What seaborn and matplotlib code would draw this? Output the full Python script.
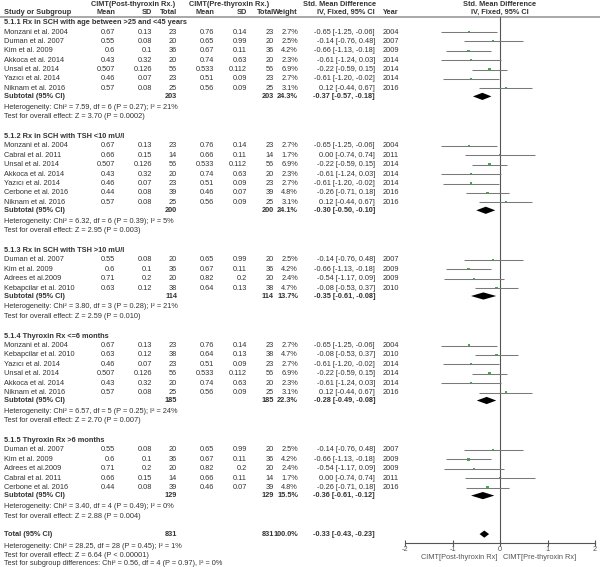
import numpy as np
import pandas as pd
import seaborn as sns
import matplotlib.pyplot as plt

sns.set_theme(style="white")
plt.rcParams['font.family'] = ['Liberation Sans', 'DejaVu Sans']
plt.rcParams['axes.unicode_minus'] = False

# ---- data ----
studies = ["Monzani et al. 2004", "Duman et al. 2007", "Kim et al. 2009", "Akkoca et al. 2014",
           "Unsal et al. 2014", "Yazıcı et al. 2014", "Niknam et al. 2016", "Cabral et al. 2011",
           "Cerbone et al. 2016", "Adrees et al.2009", "Kebapcilar et al. 2010"]
post_mean = [0.67, 0.55, 0.6, 0.43, 0.507, 0.46, 0.57, 0.66, 0.44, 0.71, 0.63]
post_sd = [0.13, 0.08, 0.1, 0.32, 0.126, 0.07, 0.08, 0.15, 0.08, 0.2, 0.12]
post_n = [23, 20, 36, 20, 56, 23, 25, 14, 39, 20, 38]
pre_mean = [0.76, 0.65, 0.67, 0.74, 0.533, 0.51, 0.56, 0.66, 0.46, 0.82, 0.64]
pre_sd = [0.14, 0.99, 0.11, 0.63, 0.112, 0.09, 0.09, 0.11, 0.07, 0.2, 0.13]
pre_n = [23, 20, 36, 20, 56, 23, 25, 14, 39, 20, 38]
weight = [2.7, 2.5, 4.2, 2.3, 6.9, 2.7, 3.1, 1.7, 4.8, 2.4, 4.7]
smd = [-0.65, -0.14, -0.66, -0.61, -0.22, -0.61, 0.12, 0.00, -0.26, -0.54, -0.08]
smd_lo = [-1.25, -0.76, -1.13, -1.24, -0.59, -1.20, -0.44, -0.74, -0.71, -1.17, -0.53]
smd_hi = [-0.06, 0.48, -0.18, 0.03, 0.15, -0.02, 0.67, 0.74, 0.18, 0.09, 0.37]
year = [2004, 2007, 2009, 2014, 2014, 2014, 2016, 2011, 2016, 2009, 2010]

groups = ["5.1.1 Rx in SCH with age between >25 and <45 years",
          "5.1.2 Rx in SCH with TSH <10 mU/l",
          "5.1.3 Rx in SCH with TSH >10 mU/l",
          "5.1.4 Thyroxin Rx <=6 months",
          "5.1.5 Thyroxin Rx >6 months"]
members = [
    ["Monzani et al. 2004", "Duman et al. 2007", "Kim et al. 2009", "Akkoca et al. 2014",
     "Unsal et al. 2014", "Yazıcı et al. 2014", "Niknam et al. 2016"],
    ["Monzani et al. 2004", "Cabral et al. 2011", "Unsal et al. 2014", "Akkoca et al. 2014",
     "Yazıcı et al. 2014", "Cerbone et al. 2016", "Niknam et al. 2016"],
    ["Duman et al. 2007", "Kim et al. 2009", "Adrees et al.2009", "Kebapcilar et al. 2010"],
    ["Monzani et al. 2004", "Kebapcilar et al. 2010", "Yazıcı et al. 2014", "Unsal et al. 2014",
     "Akkoca et al. 2014", "Niknam et al. 2016"],
    ["Duman et al. 2007", "Kim et al. 2009", "Adrees et al.2009", "Cabral et al. 2011",
     "Cerbone et al. 2016"],
]
sub_n = [203, 200, 114, 185, 129]
sub_w = [24.3, 24.1, 13.7, 22.3, 15.5]
sub_est = [-0.37, -0.30, -0.35, -0.28, -0.36]
sub_lo = [-0.57, -0.50, -0.61, -0.49, -0.61]
sub_hi = [-0.18, -0.10, -0.08, -0.08, -0.12]
het_chi = ["7.59", "6.32", "3.80", "6.57", "3.40"]
het_df = [6, 6, 3, 5, 4]
het_p = ["0.27", "0.39", "0.28", "0.25", "0.49"]
het_i2 = [21, 5, 21, 24, 0]
z_val = ["3.70", "2.95", "2.59", "2.70", "2.88"]
z_p = ["= 0.0002", "= 0.003", "= 0.010", "= 0.007", "= 0.004"]

total_n = 831
total_w = 100.0
total_est, total_lo, total_hi = -0.33, -0.43, -0.23
total_het = "Heterogeneity: Chi² = 28.25, df = 28 (P = 0.45); I² = 1%"
total_z = "Test for overall effect: Z = 6.64 (P < 0.00001)"
subgroup_test = "Test for subgroup differences: Chi² = 0.56, df = 4 (P = 0.97), I² = 0%"

sd = pd.DataFrame(dict(study=studies, pm=post_mean, psd=post_sd, pn=post_n, qm=pre_mean,
                       qsd=pre_sd, qn=pre_n, w=weight, est=smd, lo=smd_lo, hi=smd_hi,
                       year=year)).set_index("study")

# ---- layout (pixel rows) ----
TXT = '#333333'
AXC = '#555555'
FS = 5.3
X0 = 4
col = dict(pm=115, psd=152, pn=177, qm=214, qsd=247, qn=274, w=298, est=375, yr=383)

fig = plt.figure(figsize=(6, 5.67), dpi=100)
tx = fig.add_axes([0, 0, 1, 1])
tx.set_xlim(0, 600)
tx.set_ylim(567, 0)
tx.axis('off')

AX_TOP, AX_BOT = 17, 543
fx = fig.add_axes([405 / 600, (567 - AX_BOT) / 567, 190 / 600, (AX_BOT - AX_TOP) / 567])
fx.set_facecolor('none')


def put(x, y, s, ha='left', bold=False):
    tx.text(x, y, s, ha=ha, va='center', fontsize=FS, color=TXT,
            fontweight='bold' if bold else 'normal')


def ci(e, l, h):
    return f"{e:.2f} [{l:.2f}, {h:.2f}]"


# header
put(133, 4.5, "CIMT(Post-thyroxin Rx.)", ha='center', bold=True)
put(229, 4.5, "CIMT(Pre-thyroxin Rx.)", ha='center', bold=True)
put(340, 4.5, "Std. Mean Difference", ha='center', bold=True)
put(500, 4.5, "Std. Mean Difference", ha='center', bold=True)
put(X0, 12.5, "Study or Subgroup", bold=True)
for key, lab in [("pm", "Mean"), ("psd", "SD"), ("pn", "Total"), ("qm", "Mean"),
                 ("qsd", "SD"), ("qn", "Total"), ("w", "Weight"), ("est", "IV, Fixed, 95% CI")]:
    put(col[key], 12.5, lab, ha='right', bold=True)
put(col['yr'], 12.5, "Year", bold=True)
put(500, 12.5, "IV, Fixed, 95% CI", ha='center', bold=True)
tx.hlines(16.8, 0, 600, color='#9a9a9a', lw=1.2)

rows = []
subs = []
y = 22.5
for g, name in enumerate(groups):
    put(X0, y, name, bold=True)
    y += 9.5
    for i, st in enumerate(members[g]):
        if i:
            y += 9.4
        r = sd.loc[st]
        put(X0, y, st)
        put(col['pm'], y, f"{r.pm:g}", ha='right')
        put(col['psd'], y, f"{r.psd:g}", ha='right')
        put(col['pn'], y, f"{int(r.pn)}", ha='right')
        put(col['qm'], y, f"{r.qm:g}", ha='right')
        put(col['qsd'], y, f"{r.qsd:g}", ha='right')
        put(col['qn'], y, f"{int(r.qn)}", ha='right')
        put(col['w'], y, f"{r.w:.1f}%", ha='right')
        put(col['est'], y, ci(r.est, r.lo, r.hi), ha='right')
        put(col['yr'], y, f"{int(r.year)}")
        rows.append(dict(y=y, est=r.est, lo=r.lo, hi=r.hi, w=r.w))
    y += 8
    put(X0, y, "Subtotal (95% CI)", bold=True)
    put(col['pn'], y, f"{sub_n[g]}", ha='right', bold=True)
    put(col['qn'], y, f"{sub_n[g]}", ha='right', bold=True)
    put(col['w'], y, f"{sub_w[g]:.1f}%", ha='right', bold=True)
    put(col['est'], y, ci(sub_est[g], sub_lo[g], sub_hi[g]), ha='right', bold=True)
    subs.append(dict(y=y, est=sub_est[g], lo=sub_lo[g], hi=sub_hi[g]))
    y += 11
    put(X0, y, f"Heterogeneity: Chi² = {het_chi[g]}, df = {het_df[g]} (P = {het_p[g]}); "
               f"I² = {het_i2[g]}%")
    y += 9.5
    put(X0, y, f"Test for overall effect: Z = {z_val[g]} (P {z_p[g]})")
    y += 19.5 if g < len(groups) - 1 else 18

put(X0, y, "Total (95% CI)", bold=True)
put(col['pn'], y, f"{total_n}", ha='right', bold=True)
put(col['qn'], y, f"{total_n}", ha='right', bold=True)
put(col['w'], y, f"{total_w:.1f}%", ha='right', bold=True)
put(col['est'], y, ci(total_est, total_lo, total_hi), ha='right', bold=True)
subs.append(dict(y=y, est=total_est, lo=total_lo, hi=total_hi))
put(X0, y + 12, total_het)
put(X0, y + 21, total_z)
put(X0, y + 29.5, subgroup_test)

# ---- forest panel ----
rd = pd.DataFrame(rows)
sb = pd.DataFrame(subs)
fx.axvline(0, color=AXC, lw=0.8)
fx.hlines(rd.y, rd.lo, rd.hi, color='#7a7a7a', lw=0.75)
sns.scatterplot(data=rd, x='est', y='y', size='w', sizes=(1.5, 5), marker='s',
                color='#3cb043', linewidth=0, legend=False, ax=fx)
for _, s in sb.iterrows():
    fx.fill([s.lo, s.est, s.hi, s.est], [s.y, s.y - 3.6, s.y, s.y + 3.6],
            color='black', lw=0)
fx.set_xlim(-2, 2)
fx.set_ylim(AX_BOT, AX_TOP)
fx.set_xlabel('')
fx.set_ylabel('')
fx.set_yticks([])
fx.set_xticks([-2, -1, 0, 1, 2])
fx.set_xticklabels(["-2", "-1", "0", "1", "2"])
fx.tick_params(axis='x', direction='inout', length=4, width=0.8, color=AXC,
               labelsize=FS, labelcolor=AXC, pad=0, bottom=True)
sns.despine(ax=fx, left=True)
fx.spines['bottom'].set_color(AXC)
fx.spines['bottom'].set_linewidth(0.8)
fx.text(-0.06, 557, "CIMT[Post-thyroxin Rx]", ha='right', va='center', fontsize=FS,
        color=AXC)
fx.text(0.06, 557, "CIMT[Pre-thyroxin Rx]", ha='left', va='center', fontsize=FS,
        color=AXC)

fig.savefig("out.png", dpi=100)
